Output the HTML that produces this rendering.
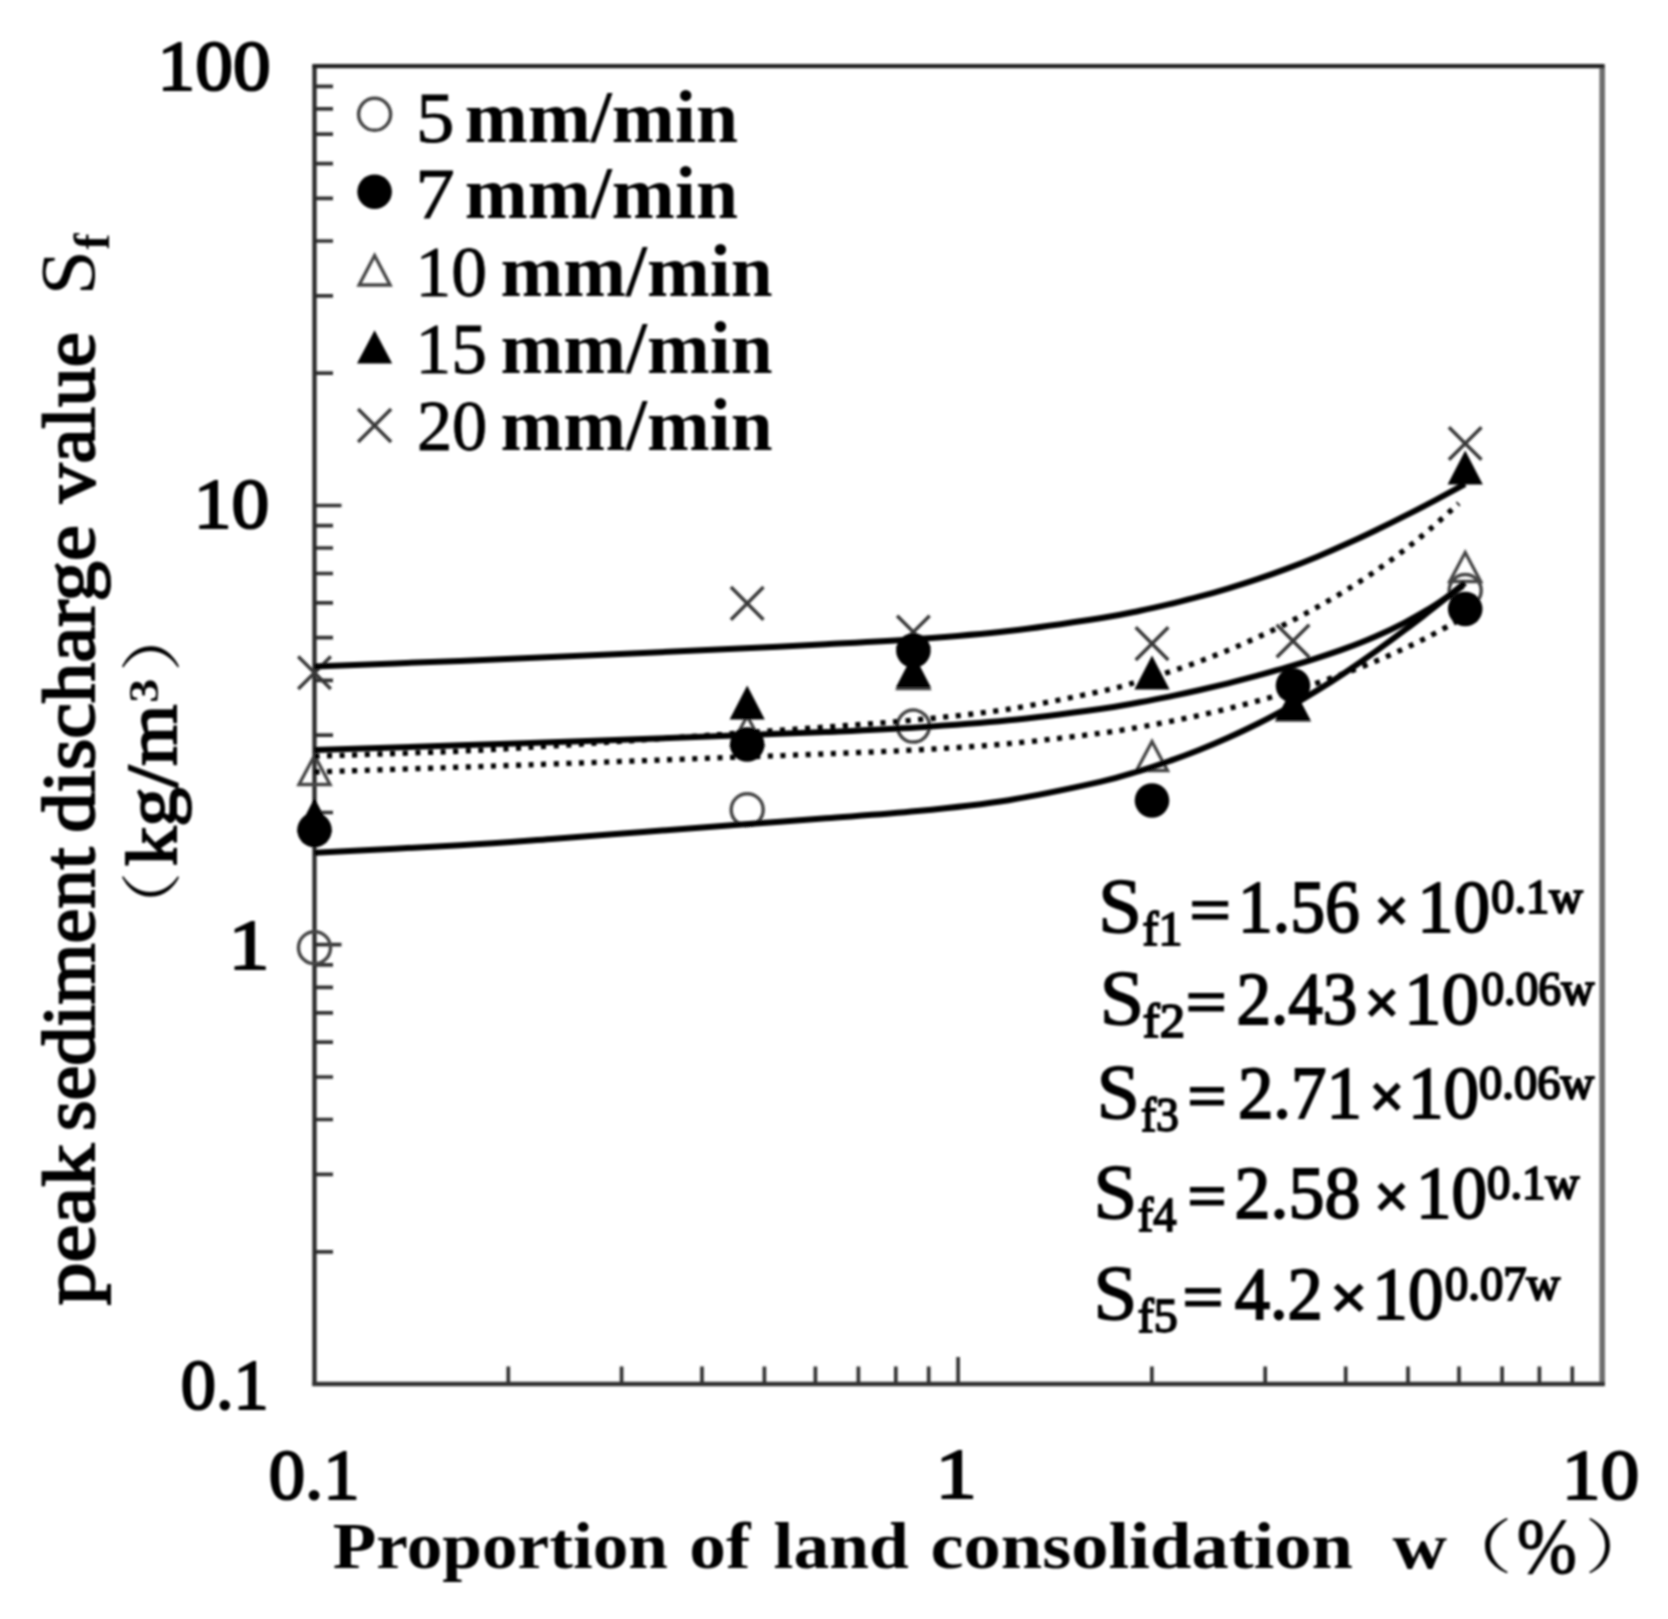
<!DOCTYPE html>
<html lang="en">
<head>
<meta charset="utf-8">
<title>Peak sediment discharge value vs. proportion of land consolidation</title>
<style>
html,body{margin:0;padding:0;background:#fff;overflow:hidden;}
svg{display:block;}
</style>
</head>
<body>
<svg width="1668" height="1619" viewBox="0 0 1668 1619">
<defs><filter id="soft" x="0" y="0" width="1668" height="1619" filterUnits="userSpaceOnUse"><feGaussianBlur stdDeviation="0.9"/></filter></defs>
<rect width="1668" height="1619" fill="#fff"/>
<g filter="url(#soft)">
<g id="frame" fill="none">
<path d="M314.5 1251.8h18.5M314.5 1174.4h18.5M314.5 1119.5h18.5M314.5 1077.0h18.5M314.5 1042.2h18.5M314.5 1012.8h18.5M314.5 987.3h18.5M314.5 964.8h18.5M314.5 944.7h27M314.5 812.5h18.5M314.5 735.1h18.5M314.5 680.3h18.5M314.5 637.7h18.5M314.5 602.9h18.5M314.5 573.5h18.5M314.5 548.0h18.5M314.5 525.6h18.5M314.5 505.5h27M314.5 373.2h18.5M314.5 295.9h18.5M314.5 241.0h18.5M314.5 198.4h18.5M314.5 163.7h18.5M314.5 134.2h18.5M314.5 108.8h18.5M314.5 86.3h18.5M508.3 1384.0v-17.5M621.6 1384.0v-17.5M702.0 1384.0v-17.5M764.4 1384.0v-17.5M815.4 1384.0v-17.5M858.4 1384.0v-17.5M895.8 1384.0v-17.5M928.7 1384.0v-17.5M958.1 1384.0v-27M1151.9 1384.0v-17.5M1265.2 1384.0v-17.5M1345.7 1384.0v-17.5M1408.0 1384.0v-17.5M1459.0 1384.0v-17.5M1502.1 1384.0v-17.5M1539.4 1384.0v-17.5M1572.3 1384.0v-17.5" stroke="#303030" stroke-width="3.7"/>
<path d="M1602.2 64.2V1386.0" stroke="#6e6e6e" stroke-width="5.6"/>
<path d="M314.5 1386.0V66.2" stroke="#2a2a2a" stroke-width="4.3"/>
<path d="M312.3 66.2H1604.3" stroke="#222" stroke-width="4.3"/>
<path d="M312.3 1384.0H1604.7" stroke="#303030" stroke-width="4.3"/>
</g>
<g id="markers">
<circle cx="374.6" cy="114.3" r="16" fill="none" stroke="#444" stroke-width="3.5"/>
<circle cx="374.6" cy="191.8" r="17.3" fill="#000"/>
<path d="M374.6 255.5L390.1 285.0L359.1 285.0Z" fill="none" stroke="#444" stroke-width="3.3"/>
<path d="M374.6 330.3L392.20000000000005 363.6L357.0 363.6Z" fill="#000"/>
<path d="M358.1 409.0L391.1 442.0M358.1 442.0L391.1 409.0" fill="none" stroke="#383838" stroke-width="3.5"/>
<circle cx="314.5" cy="947.7" r="16" fill="none" stroke="#444" stroke-width="3.5"/>
<circle cx="747.2" cy="809.7" r="16" fill="none" stroke="#444" stroke-width="3.5"/>
<circle cx="913.4" cy="726.1" r="16" fill="none" stroke="#444" stroke-width="3.5"/>
<circle cx="1465.2" cy="590.5" r="16" fill="none" stroke="#444" stroke-width="3.5"/>
<path d="M314.5 755.5L330.0 784.5L299.0 784.5Z" fill="none" stroke="#444" stroke-width="3.3"/>
<path d="M747.2 716.0L762.7 745.0L731.7 745.0Z" fill="none" stroke="#444" stroke-width="3.3"/>
<path d="M913.4 659.5L928.9 688.5L897.9 688.5Z" fill="none" stroke="#444" stroke-width="3.3"/>
<path d="M1152 741.5L1167.5 770.5L1136.5 770.5Z" fill="none" stroke="#444" stroke-width="3.3"/>
<path d="M1293 691.0L1308.5 720.0L1277.5 720.0Z" fill="none" stroke="#444" stroke-width="3.3"/>
<path d="M1465.2 552.5L1480.7 581.5L1449.7 581.5Z" fill="none" stroke="#444" stroke-width="3.3"/>
<path d="M314.5 798L332.1 832L296.9 832Z" fill="#000"/>
<path d="M747.2 685.6L764.8000000000001 719.6L729.6 719.6Z" fill="#000"/>
<path d="M913.4 653.6L931.0 687.6L895.8 687.6Z" fill="#000"/>
<path d="M1152 655.5L1169.6 689.5L1134.4 689.5Z" fill="#000"/>
<path d="M1293 686.5L1310.6 720.5L1275.4 720.5Z" fill="#000"/>
<path d="M1465.2 450.5L1482.8 484.5L1447.6000000000001 484.5Z" fill="#000"/>
<path d="M298.2 656.5L330.8 689.0999999999999M298.2 689.0999999999999L330.8 656.5" fill="none" stroke="#383838" stroke-width="3.5"/>
<path d="M730.9000000000001 587.1L763.5 619.6999999999999M730.9000000000001 619.6999999999999L763.5 587.1" fill="none" stroke="#383838" stroke-width="3.5"/>
<path d="M897.1 615.7L929.6999999999999 648.3M897.1 648.3L929.6999999999999 615.7" fill="none" stroke="#383838" stroke-width="3.5"/>
<path d="M1135.7 627.3000000000001L1168.3 659.9M1135.7 659.9L1168.3 627.3000000000001" fill="none" stroke="#383838" stroke-width="3.5"/>
<path d="M1276.7 624.7L1309.3 657.3M1276.7 657.3L1309.3 624.7" fill="none" stroke="#383838" stroke-width="3.5"/>
<path d="M1448.9 427.2L1481.5 459.8M1448.9 459.8L1481.5 427.2" fill="none" stroke="#383838" stroke-width="3.5"/>
<circle cx="314.5" cy="830" r="17.3" fill="#000"/>
<circle cx="747.2" cy="744.5" r="17.3" fill="#000"/>
<circle cx="913.4" cy="650.5" r="17.3" fill="#000"/>
<circle cx="1152" cy="800.5" r="17.3" fill="#000"/>
<circle cx="1293" cy="685.6" r="17.3" fill="#000"/>
<circle cx="1465.2" cy="609" r="17.3" fill="#000"/>
</g>
<g id="curves" fill="none" stroke="#000">
<path d="M314.5 852.8C338.8 851.5 420.5 847.5 460.0 845.2C499.5 842.9 521.0 841.1 551.4 838.9C581.9 836.7 612.4 834.3 642.9 832.0C673.3 829.7 703.8 827.3 734.3 825.0C764.8 822.7 795.2 820.6 825.7 818.3C856.2 816.0 886.7 814.2 917.1 811.1C947.6 808.1 978.1 805.0 1008.6 800.2C1039.0 795.3 1078.1 786.8 1100.0 781.9C1121.9 777.0 1128.4 774.2 1140.0 770.8C1151.6 767.3 1159.7 764.5 1169.5 761.0C1179.4 757.6 1189.2 753.9 1199.1 750.0C1208.9 746.1 1218.8 741.9 1228.6 737.5C1238.5 733.1 1248.3 728.4 1258.2 723.5C1268.0 718.5 1277.9 713.3 1287.7 707.8C1297.6 702.3 1307.4 696.5 1317.3 690.4C1327.1 684.4 1337.0 678.0 1346.8 671.4C1356.7 664.8 1366.5 658.0 1376.4 650.9C1386.2 643.9 1396.1 636.6 1405.9 629.2C1415.8 621.8 1425.6 614.2 1435.5 606.5C1445.3 598.7 1460.1 586.8 1465.0 582.9" stroke-width="6"/>
<path d="M314.5 750.0C338.8 749.2 420.5 746.6 460.0 745.3C499.5 744.0 521.0 743.3 551.4 742.2C581.9 741.2 612.4 740.1 642.9 739.0C673.3 737.9 703.8 736.8 734.3 735.6C764.8 734.4 795.2 733.3 825.7 732.0C856.2 730.6 886.7 729.3 917.1 727.4C947.6 725.5 978.1 723.4 1008.6 720.3C1039.0 717.3 1078.1 712.0 1100.0 709.0C1121.9 706.0 1128.4 704.3 1140.0 702.3C1151.6 700.2 1159.6 698.6 1169.4 696.6C1179.2 694.6 1188.9 692.5 1198.7 690.3C1208.5 688.0 1218.3 685.7 1228.1 683.3C1237.9 680.9 1247.7 678.3 1257.5 675.7C1267.2 673.0 1277.0 670.3 1286.8 667.4C1296.6 664.5 1306.4 661.6 1316.2 658.4C1326.0 655.2 1335.8 652.0 1345.5 648.4C1355.3 644.8 1365.1 641.0 1374.9 636.7C1384.7 632.5 1394.5 627.9 1404.3 622.8C1414.1 617.7 1423.8 612.2 1433.6 606.0C1443.4 599.8 1458.1 589.1 1463.0 585.7" stroke-width="6"/>
<path d="M314.5 666.5C338.8 665.5 420.5 662.4 460.0 660.9C499.5 659.3 521.0 658.3 551.4 657.0C581.9 655.7 612.4 654.4 642.9 653.0C673.3 651.6 703.8 650.2 734.3 648.7C764.8 647.3 795.2 645.9 825.7 644.3C856.2 642.7 886.7 641.3 917.1 639.1C947.6 636.9 978.1 634.6 1008.6 631.1C1039.0 627.6 1078.1 621.7 1100.0 618.3C1121.9 614.9 1128.4 613.1 1140.0 610.7C1151.6 608.4 1159.7 606.5 1169.5 604.2C1179.4 601.8 1189.2 599.4 1199.1 596.7C1208.9 594.1 1218.8 591.3 1228.6 588.3C1238.5 585.4 1248.3 582.2 1258.2 578.9C1268.0 575.6 1277.9 572.1 1287.7 568.4C1297.6 564.7 1307.4 560.8 1317.3 556.7C1327.1 552.6 1337.0 548.3 1346.8 543.8C1356.7 539.4 1366.5 534.8 1376.4 530.0C1386.2 525.3 1396.1 520.4 1405.9 515.4C1415.8 510.4 1425.6 505.3 1435.5 500.1C1445.3 494.9 1460.1 486.9 1465.0 484.2" stroke-width="6"/>
<path d="M314.5 772.0C338.8 771.2 420.5 768.5 460.0 767.2C499.5 765.8 521.0 765.1 551.4 764.0C581.9 762.9 612.4 761.8 642.9 760.7C673.3 759.5 703.8 758.4 734.3 757.3C764.8 756.2 795.2 755.1 825.7 753.9C856.2 752.7 886.7 751.6 917.1 749.9C947.6 748.2 978.1 746.4 1008.6 743.7C1039.0 740.9 1078.1 736.1 1100.0 733.3C1121.9 730.5 1128.5 728.9 1140.0 727.0C1151.5 725.1 1159.2 723.6 1168.7 721.7C1178.3 719.9 1187.9 717.9 1197.5 715.8C1207.0 713.7 1216.6 711.5 1226.2 709.1C1235.8 706.8 1245.3 704.3 1254.9 701.7C1264.5 699.2 1274.1 696.4 1283.6 693.6C1293.2 690.7 1302.8 687.7 1312.4 684.6C1321.9 681.4 1331.5 678.1 1341.1 674.6C1350.7 671.1 1360.2 667.5 1369.8 663.6C1379.4 659.7 1389.0 655.6 1398.5 651.2C1408.1 646.9 1417.7 642.3 1427.3 637.4C1436.8 632.5 1451.2 624.4 1456.0 621.8" stroke-width="5.3" stroke-dasharray="5.1 7.5"/>
<path d="M314.5 756.3C338.8 755.4 420.5 752.9 460.0 751.2C499.5 749.5 521.0 747.9 551.4 746.0C581.9 744.1 612.4 742.0 642.9 739.9C673.3 737.8 703.8 735.6 734.3 733.4C764.8 731.2 795.2 729.2 825.7 727.0C856.2 724.7 886.7 722.8 917.1 719.8C947.6 716.9 978.1 713.8 1008.6 709.1C1039.0 704.4 1078.1 696.2 1100.0 691.6C1121.9 686.9 1128.5 684.2 1140.0 681.0C1151.5 677.7 1159.3 675.2 1169.0 672.0C1178.6 668.9 1188.3 665.5 1197.9 662.0C1207.6 658.4 1217.3 654.6 1226.9 650.7C1236.6 646.7 1246.2 642.5 1255.9 638.1C1265.5 633.7 1275.2 629.1 1284.9 624.3C1294.5 619.4 1304.2 614.4 1313.8 609.0C1323.5 603.7 1333.2 598.1 1342.8 592.2C1352.5 586.3 1362.1 580.2 1371.8 573.6C1381.4 567.0 1391.1 560.1 1400.8 552.7C1410.4 545.4 1420.1 537.7 1429.7 529.4C1439.4 521.2 1453.9 507.7 1458.7 503.4" stroke-width="5.3" stroke-dasharray="5.1 7.5"/>
</g>
<g id="labels" font-family="'Liberation Serif','Noto Serif CJK SC',serif">
<text><tspan x="157.6" y="90.0" font-size="72.5" font-weight="normal" textLength="113.0" lengthAdjust="spacingAndGlyphs" stroke="#000" stroke-width="2.2">100</tspan></text>
<text><tspan x="193.8" y="528.1" font-size="72.5" font-weight="normal" textLength="75.5" lengthAdjust="spacingAndGlyphs" stroke="#000" stroke-width="2.2">10</tspan></text>
<text><tspan x="228.6" y="969.3" font-size="72.5" font-weight="normal" textLength="41.0" lengthAdjust="spacingAndGlyphs" stroke="#000" stroke-width="2.2">1</tspan></text>
<text><tspan x="180.7" y="1408.5" font-size="72.5" font-weight="normal" textLength="88.0" lengthAdjust="spacingAndGlyphs" stroke="#000" stroke-width="2.2">0.1</tspan></text>
<text><tspan x="268.7" y="1499.0" font-size="72.5" font-weight="normal" textLength="90.9" lengthAdjust="spacingAndGlyphs" stroke="#000" stroke-width="2.2">0.1</tspan></text>
<text><tspan x="935.6" y="1498.0" font-size="72.5" font-weight="normal" textLength="41.3" lengthAdjust="spacingAndGlyphs" stroke="#000" stroke-width="2.2">1</tspan></text>
<text><tspan x="1561.8" y="1498.8" font-size="72.5" font-weight="normal" textLength="77.6" lengthAdjust="spacingAndGlyphs" stroke="#000" stroke-width="2.2">10</tspan></text>
<text><tspan x="416.0" y="142.3" font-size="71.5" font-weight="normal" textLength="38.4" lengthAdjust="spacingAndGlyphs" stroke="#000" stroke-width="0.9">5</tspan> <tspan x="464.8" y="142.3" font-size="75" font-weight="bold" textLength="273.2" lengthAdjust="spacingAndGlyphs">mm/min</tspan></text>
<text><tspan x="415.3" y="218.0" font-size="71.5" font-weight="normal" textLength="39.5" lengthAdjust="spacingAndGlyphs" stroke="#000" stroke-width="0.9">7</tspan> <tspan x="464.8" y="218.0" font-size="75" font-weight="bold" textLength="273.2" lengthAdjust="spacingAndGlyphs">mm/min</tspan></text>
<text><tspan x="415.5" y="295.8" font-size="71.5" font-weight="normal" textLength="71.5" lengthAdjust="spacingAndGlyphs" stroke="#000" stroke-width="0.9">10</tspan> <tspan x="500.6" y="295.8" font-size="75" font-weight="bold" textLength="272.0" lengthAdjust="spacingAndGlyphs">mm/min</tspan></text>
<text><tspan x="415.6" y="373.0" font-size="71.5" font-weight="normal" textLength="71.4" lengthAdjust="spacingAndGlyphs" stroke="#000" stroke-width="0.9">15</tspan> <tspan x="500.6" y="373.0" font-size="75" font-weight="bold" textLength="272.0" lengthAdjust="spacingAndGlyphs">mm/min</tspan></text>
<text><tspan x="416.9" y="450.3" font-size="71.5" font-weight="normal" textLength="70.3" lengthAdjust="spacingAndGlyphs" stroke="#000" stroke-width="0.9">20</tspan> <tspan x="500.6" y="450.3" font-size="75" font-weight="bold" textLength="272.0" lengthAdjust="spacingAndGlyphs">mm/min</tspan></text>
<text><tspan x="332.8" y="1568.2" font-size="66" font-weight="bold" textLength="335.2" lengthAdjust="spacingAndGlyphs">Proportion</tspan> <tspan x="689.3" y="1568.2" font-size="66" font-weight="bold" textLength="61.1" lengthAdjust="spacingAndGlyphs">of</tspan> <tspan x="773.6" y="1568.2" font-size="66" font-weight="bold" textLength="135.2" lengthAdjust="spacingAndGlyphs">land</tspan> <tspan x="930.4" y="1568.2" font-size="66" font-weight="bold" textLength="422.6" lengthAdjust="spacingAndGlyphs">consolidation</tspan> <tspan x="1392.5" y="1568.2" font-size="66" font-weight="bold" textLength="54.5" lengthAdjust="spacingAndGlyphs">w</tspan> <tspan x="1433.0" y="1567.5" font-size="59" font-weight="normal" textLength="80.0" lengthAdjust="spacingAndGlyphs">（</tspan><tspan x="1516.7" y="1572.0" font-size="78" font-weight="normal" textLength="60.1" lengthAdjust="spacingAndGlyphs" stroke="#000" stroke-width="1.2">%</tspan><tspan x="1584.4" y="1567.5" font-size="59" font-weight="normal" textLength="73.0" lengthAdjust="spacingAndGlyphs">）</tspan></text>
<text transform="rotate(-90)"><tspan x="-1305.3" y="94.2" font-size="75" font-weight="normal" textLength="161.3" lengthAdjust="spacingAndGlyphs" stroke="#000" stroke-width="2.1">peak</tspan> <tspan x="-1131.1" y="94.2" font-size="75" font-weight="normal" textLength="283.6" lengthAdjust="spacingAndGlyphs" stroke="#000" stroke-width="2.1">sediment</tspan> <tspan x="-832.8" y="94.2" font-size="75" font-weight="normal" textLength="307.5" lengthAdjust="spacingAndGlyphs" stroke="#000" stroke-width="2.1">discharge</tspan> <tspan x="-503.0" y="94.2" font-size="75" font-weight="normal" textLength="170.6" lengthAdjust="spacingAndGlyphs" stroke="#000" stroke-width="2.1">value</tspan> <tspan x="-295.5" y="94.2" font-size="78" font-weight="normal" textLength="45.5" lengthAdjust="spacingAndGlyphs">S</tspan><tspan x="-249.4" y="109.0" font-size="50" font-weight="bold" textLength="15.9" lengthAdjust="spacingAndGlyphs">f</tspan></text>
<text transform="rotate(-90)"><tspan x="-943.5" y="174.2" font-size="61" font-weight="normal" textLength="72.0" lengthAdjust="spacingAndGlyphs">（</tspan><tspan x="-866.1" y="176.0" font-size="71" font-weight="normal" textLength="161.6" lengthAdjust="spacingAndGlyphs" stroke="#000" stroke-width="2.0">kg/m</tspan><tspan x="-702.8" y="158.0" font-size="43" font-weight="bold" textLength="24.0" lengthAdjust="spacingAndGlyphs">3</tspan><tspan x="-672.2" y="174.2" font-size="61" font-weight="normal" textLength="74.8" lengthAdjust="spacingAndGlyphs">）</tspan></text>
<text><tspan x="1097.9" y="931.5" font-size="77.5" font-weight="normal" textLength="44.1" lengthAdjust="spacingAndGlyphs" stroke="#000" stroke-width="1.3">S</tspan><tspan x="1142.6" y="944.5" font-size="47.5" font-weight="normal" textLength="39.7" lengthAdjust="spacingAndGlyphs" stroke="#000" stroke-width="1.8">f1</tspan> <tspan x="1188.9" y="931.7" font-size="66" font-weight="bold" textLength="42.8" lengthAdjust="spacingAndGlyphs" stroke="#000" stroke-width="1.0">=</tspan> <tspan x="1238.1" y="931.5" font-size="73.5" font-weight="normal" textLength="121.7" lengthAdjust="spacingAndGlyphs" stroke="#000" stroke-width="1.9">1.56</tspan> <tspan x="1373.8" y="931.7" font-size="64" font-weight="bold" textLength="35.8" lengthAdjust="spacingAndGlyphs" stroke="#000" stroke-width="1.4">×</tspan> <tspan x="1417.3" y="931.5" font-size="73.5" font-weight="normal" textLength="72.7" lengthAdjust="spacingAndGlyphs" stroke="#000" stroke-width="1.9">10</tspan><tspan x="1491.3" y="912.9" font-size="47.5" font-weight="normal" textLength="91.4" lengthAdjust="spacingAndGlyphs" stroke="#000" stroke-width="2.1">0.1w</tspan></text>
<text><tspan x="1099.4" y="1023.5" font-size="77.5" font-weight="normal" textLength="44.8" lengthAdjust="spacingAndGlyphs" stroke="#000" stroke-width="1.3">S</tspan><tspan x="1142.8" y="1036.5" font-size="47.5" font-weight="normal" textLength="42.2" lengthAdjust="spacingAndGlyphs" stroke="#000" stroke-width="1.8">f2</tspan> <tspan x="1185.3" y="1023.7" font-size="66" font-weight="bold" textLength="42.3" lengthAdjust="spacingAndGlyphs" stroke="#000" stroke-width="1.0">=</tspan> <tspan x="1236.4" y="1023.5" font-size="73.5" font-weight="normal" textLength="120.9" lengthAdjust="spacingAndGlyphs" stroke="#000" stroke-width="1.9">2.43</tspan> <tspan x="1364.0" y="1023.7" font-size="64" font-weight="bold" textLength="36.0" lengthAdjust="spacingAndGlyphs" stroke="#000" stroke-width="1.4">×</tspan> <tspan x="1404.1" y="1023.5" font-size="73.5" font-weight="normal" textLength="75.0" lengthAdjust="spacingAndGlyphs" stroke="#000" stroke-width="1.9">10</tspan><tspan x="1481.2" y="1004.9" font-size="47.5" font-weight="normal" textLength="113.0" lengthAdjust="spacingAndGlyphs" stroke="#000" stroke-width="2.1">0.06w</tspan></text>
<text><tspan x="1096.5" y="1118.0" font-size="77.5" font-weight="normal" textLength="43.5" lengthAdjust="spacingAndGlyphs" stroke="#000" stroke-width="1.3">S</tspan><tspan x="1140.9" y="1131.0" font-size="47.5" font-weight="normal" textLength="38.1" lengthAdjust="spacingAndGlyphs" stroke="#000" stroke-width="1.8">f3</tspan> <tspan x="1187.0" y="1118.2" font-size="66" font-weight="bold" textLength="40.4" lengthAdjust="spacingAndGlyphs" stroke="#000" stroke-width="1.0">=</tspan> <tspan x="1237.9" y="1118.0" font-size="73.5" font-weight="normal" textLength="124.1" lengthAdjust="spacingAndGlyphs" stroke="#000" stroke-width="1.9">2.71</tspan> <tspan x="1369.0" y="1118.2" font-size="64" font-weight="bold" textLength="35.8" lengthAdjust="spacingAndGlyphs" stroke="#000" stroke-width="1.4">×</tspan> <tspan x="1407.9" y="1118.0" font-size="73.5" font-weight="normal" textLength="71.1" lengthAdjust="spacingAndGlyphs" stroke="#000" stroke-width="1.9">10</tspan><tspan x="1479.1" y="1099.4" font-size="47.5" font-weight="normal" textLength="114.9" lengthAdjust="spacingAndGlyphs" stroke="#000" stroke-width="2.1">0.06w</tspan></text>
<text><tspan x="1093.2" y="1218.0" font-size="77.5" font-weight="normal" textLength="44.2" lengthAdjust="spacingAndGlyphs" stroke="#000" stroke-width="1.3">S</tspan><tspan x="1137.7" y="1231.0" font-size="47.5" font-weight="normal" textLength="38.7" lengthAdjust="spacingAndGlyphs" stroke="#000" stroke-width="1.8">f4</tspan> <tspan x="1187.0" y="1218.2" font-size="66" font-weight="bold" textLength="40.4" lengthAdjust="spacingAndGlyphs" stroke="#000" stroke-width="1.0">=</tspan> <tspan x="1234.6" y="1218.0" font-size="73.5" font-weight="normal" textLength="125.7" lengthAdjust="spacingAndGlyphs" stroke="#000" stroke-width="1.9">2.58</tspan> <tspan x="1373.8" y="1218.2" font-size="64" font-weight="bold" textLength="35.8" lengthAdjust="spacingAndGlyphs" stroke="#000" stroke-width="1.4">×</tspan> <tspan x="1416.0" y="1218.0" font-size="73.5" font-weight="normal" textLength="71.0" lengthAdjust="spacingAndGlyphs" stroke="#000" stroke-width="1.9">10</tspan><tspan x="1487.1" y="1199.4" font-size="47.5" font-weight="normal" textLength="92.1" lengthAdjust="spacingAndGlyphs" stroke="#000" stroke-width="2.1">0.1w</tspan></text>
<text><tspan x="1093.2" y="1318.5" font-size="77.5" font-weight="normal" textLength="44.2" lengthAdjust="spacingAndGlyphs" stroke="#000" stroke-width="1.3">S</tspan><tspan x="1137.7" y="1331.5" font-size="47.5" font-weight="normal" textLength="40.0" lengthAdjust="spacingAndGlyphs" stroke="#000" stroke-width="1.8">f5</tspan> <tspan x="1182.0" y="1318.7" font-size="66" font-weight="bold" textLength="42.4" lengthAdjust="spacingAndGlyphs" stroke="#000" stroke-width="1.0">=</tspan> <tspan x="1234.7" y="1318.5" font-size="73.5" font-weight="normal" textLength="88.1" lengthAdjust="spacingAndGlyphs" stroke="#000" stroke-width="1.9">4.2</tspan> <tspan x="1329.7" y="1318.7" font-size="64" font-weight="bold" textLength="38.3" lengthAdjust="spacingAndGlyphs" stroke="#000" stroke-width="1.4">×</tspan> <tspan x="1372.3" y="1318.5" font-size="73.5" font-weight="normal" textLength="71.2" lengthAdjust="spacingAndGlyphs" stroke="#000" stroke-width="1.9">10</tspan><tspan x="1445.1" y="1299.9" font-size="47.5" font-weight="normal" textLength="114.9" lengthAdjust="spacingAndGlyphs" stroke="#000" stroke-width="2.1">0.07w</tspan></text>
</g>
</g>
</svg>
</body>
</html>
